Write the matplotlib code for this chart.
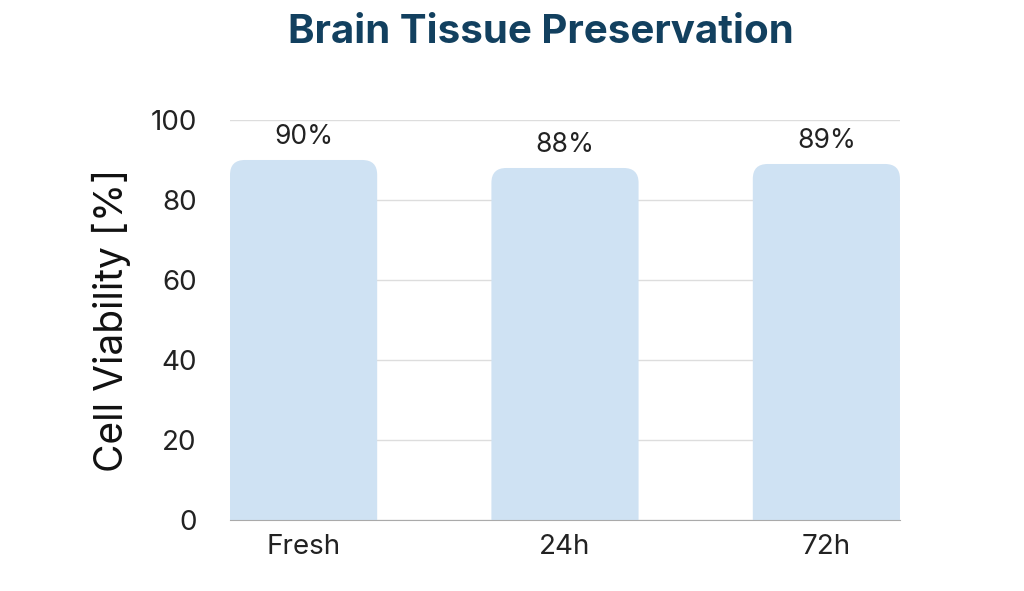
import matplotlib
matplotlib.use("Agg")
import matplotlib.pyplot as plt
from matplotlib.patches import FancyBboxPatch

categories = ["Fresh", "24h", "72h"]
values = [90, 88, 89]
labels = ["90%", "88%", "89%"]

plt.rcParams['font.family'] = ['Inter', 'DejaVu Sans']
fig = plt.figure(figsize=(10.24, 5.91), dpi=100)
ax = fig.add_axes([0.2246, 0.120, 0.6543, 0.677])
width = 0.563
for i, v in enumerate(values):
    p = FancyBboxPatch((i - width/2, -20), width, v + 20,
                       boxstyle="round,pad=0,rounding_size=0.057",
                       mutation_aspect=65, facecolor="#cfe2f3", edgecolor="none", zorder=2)
    ax.add_patch(p)
    ax.text(i, v + 2.5, labels[i], ha="center", va="bottom", fontsize=19, color="#222222")
ax.set_xlim(-0.2816, 2.2816)
ax.set_ylim(0, 100)
ax.set_yticks(range(0, 101, 20))
ax.set_xticks(range(len(categories)))
ax.set_xticklabels(categories)
ax.tick_params(axis="both", length=0, labelsize=20, colors="#222222")
ax.tick_params(axis="x", pad=10)
ax.tick_params(axis="y", pad=24)
ax.grid(axis="y", color="#dddddd", linewidth=1, zorder=0)
ax.set_axisbelow(True)
for s in ["top", "right", "left"]:
    ax.spines[s].set_visible(False)
ax.spines["bottom"].set_color("#aaaaaa")
ax.set_ylabel("Cell Viability [%]", fontsize=28, color="#111111", labelpad=14)
fig.text(0.528, 0.945, "Brain Tissue Preservation", ha="center", va="center",
         fontsize=29, fontweight="bold", color="#12405f")
fig.savefig("out.png", dpi=100)
